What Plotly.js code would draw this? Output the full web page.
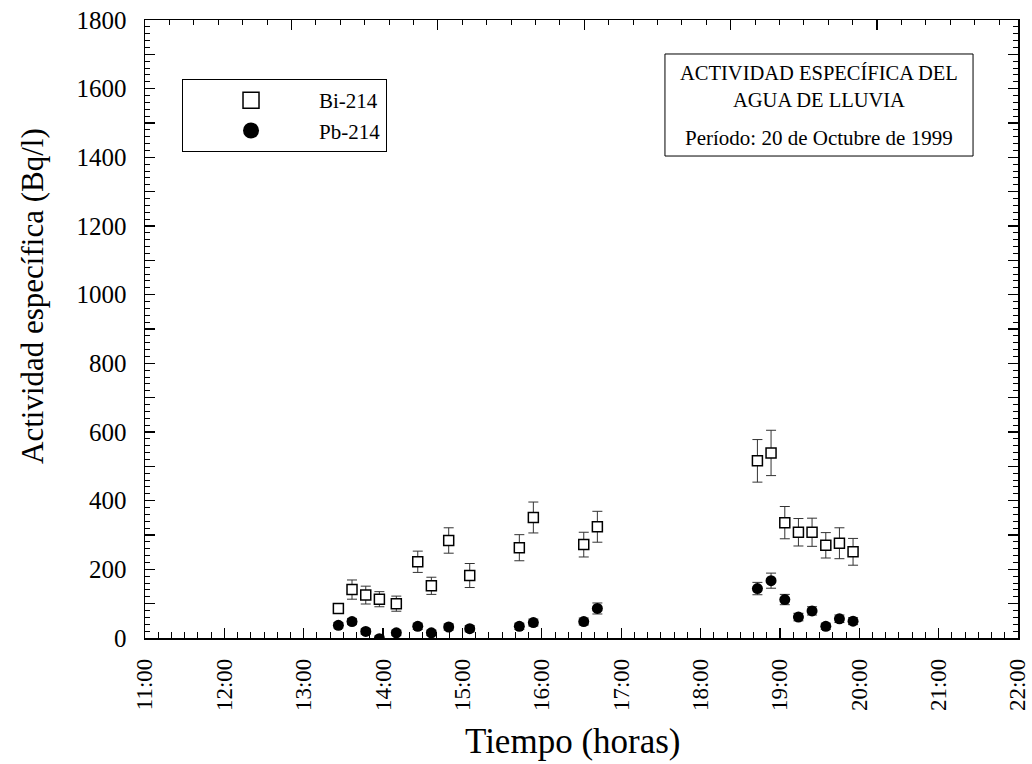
<!DOCTYPE html>
<html>
<head>
<meta charset="utf-8">
<script src="https://cdn.plot.ly/plotly-3.0.1.min.js"></script>
<style>html,body{margin:0;padding:0;background:#fff;}#chart{width:1032px;height:764px;}</style>
</head>
<body>
<div id="chart"></div>
<script>
// ---- data ----
var times = ["1999-10-20 13:26:12","1999-10-20 13:36:30","1999-10-20 13:46:54","1999-10-20 13:57:12",
             "1999-10-20 14:10:00","1999-10-20 14:26:12","1999-10-20 14:36:30","1999-10-20 14:49:36",
             "1999-10-20 15:05:30","1999-10-20 15:43:00","1999-10-20 15:53:36","1999-10-20 16:31:42",
             "1999-10-20 16:42:00","1999-10-20 18:43:00","1999-10-20 18:53:18","1999-10-20 19:03:42",
             "1999-10-20 19:14:00","1999-10-20 19:24:18","1999-10-20 19:34:42","1999-10-20 19:45:00",
             "1999-10-20 19:55:18"];
var bi214 = [86, 141, 125, 113, 100, 222, 152, 284, 182, 263, 351, 272, 324, 516, 539, 336, 308, 308, 270, 276, 251];
var bi214Err = [12, 28, 26, 22, 22, 31, 25, 37, 35, 38, 45, 36, 45, 62, 66, 47, 40, 41, 37, 45, 39];
var pb214 = [37, 48, 19, -2, 15, 34, 15, 32, 27, 34, 45, 48, 86, 144, 167, 112, 61, 79, 34, 56, 49];
var pb214Err = [8, 9, 8, 8, 8, 9, 8, 9, 9, 9, 10, 10, 16, 18, 22, 15, 11, 12, 9, 11, 10];
var seriesNames = ["Bi-214", "Pb-214"];
var xRange = ["1999-10-20 11:00", "1999-10-20 22:00"];
var yTickVals = [0,100,200,300,400,500,600,700,800,900,1000,1100,1200,1300,1400,1500,1600,1700,1800];
var yTickText = ["0","","200","","400","","600","","800","","1000","","1200","","1400","","1600","","1800"];
var boxTitle = "ACTIVIDAD ESPECÍFICA DEL<br>AGUA DE LLUVIA";
var boxPeriod = "Período: 20 de Octubre de 1999";
var xTitle = "Tiempo (horas)";
var yTitle = "Actividad específica (Bq/l)";

var FONT = '"Liberation Serif", "Times New Roman", Times, serif';

var traces = [
  {
    x: times, y: bi214, type: "scatter", mode: "markers", name: seriesNames[0], showlegend: false,
    marker: {symbol: "square", size: 10, color: "#ffffff", line: {color: "#000", width: 1.5}},
    error_y: {type: "data", array: bi214Err, visible: true, color: "#333", thickness: 1, width: 5}
  },
  {
    x: times, y: pb214, type: "scatter", mode: "markers", name: seriesNames[1], showlegend: false,
    marker: {symbol: "circle", size: 11, color: "#000"},
    error_y: {type: "data", array: pb214Err, visible: true, color: "#333", thickness: 1, width: 5}
  },
  // legend entries
  {x: [null], y: [null], type: "scatter", mode: "markers", name: seriesNames[0],
   marker: {symbol: "square", size: 16, color: "#fff", line: {color: "#000", width: 1.5}}},
  {x: [null], y: [null], type: "scatter", mode: "markers", name: seriesNames[1],
   marker: {symbol: "circle", size: 16, color: "#000"}},
  // top mirrored scale axis holder
  {x: [null], y: [null], xaxis: "x2", yaxis: "y", type: "scatter", mode: "markers", showlegend: false, hoverinfo: "skip"}
];

var layout = {
  width: 1032, height: 764,
  paper_bgcolor: "#fff", plot_bgcolor: "#fff",
  margin: {l: 145, r: 14, t: 20, b: 126},
  font: {family: FONT, color: "#000"},
  showlegend: true,
  legend: {
    x: 0.0424, y: 0.9045, xanchor: "left", yanchor: "top",
    bordercolor: "#000", borderwidth: 1, bgcolor: "#fff",
    font: {family: FONT, size: 21, color: "#000"},
    itemwidth: 126
  },
  xaxis: {
    type: "date", range: xRange, dtick: 3600000, tick0: "1999-10-20 11:00", tickformat: "%H:%M",
    tickangle: -90, ticks: "inside", ticklen: 10, tickwidth: 1.2, tickcolor: "#000",
    ticklabelstandoff: 10,
    minor: {dtick: 600000, tick0: "1999-10-20 11:00", ticks: "inside", ticklen: 6, tickwidth: 1, tickcolor: "#000"},
    showline: true, linecolor: "#000", linewidth: 1.5, mirror: true,
    showgrid: false, zeroline: false,
    tickfont: {family: FONT, size: 23, color: "#000"}
  },
  xaxis2: {
    overlaying: "x", side: "top", anchor: "y", range: [0, 5.963], dtick: 1, tick0: 0,
    ticks: "inside", ticklen: 10, tickwidth: 1.2, tickcolor: "#000",
    minor: {dtick: 1/6, tick0: 0, ticks: "inside", ticklen: 5, tickwidth: 1, tickcolor: "#000"},
    showticklabels: false, showline: false, showgrid: false, zeroline: false, fixedrange: true
  },
  yaxis: {
    range: [0, 1800], tickmode: "array", tickvals: yTickVals, ticktext: yTickText,
    ticks: "inside", ticklen: 10, tickwidth: 1.2, tickcolor: "#000",
    ticklabelstandoff: 12,
    minor: {dtick: 20, tick0: 0, ticks: "inside", ticklen: 5, tickwidth: 1, tickcolor: "#000"},
    showline: true, linecolor: "#000", linewidth: 1.5, mirror: "ticks",
    showgrid: false, zeroline: false,
    tickfont: {family: FONT, size: 25, color: "#000"}
  },
  shapes: [
    {type: "rect", xref: "paper", yref: "paper", x0: 0.5956, x1: 0.9485, y0: 0.7799, y1: 0.945,
     line: {color: "#000", width: 1}, fillcolor: "#fff", layer: "above"}
  ],
  annotations: [
    {xref: "paper", yref: "paper", x: 0.772, y: 0.8924, xanchor: "center", yanchor: "middle",
     text: boxTitle, showarrow: false, font: {family: FONT, size: 20.5, color: "#000"}},
    {xref: "paper", yref: "paper", x: 0.772, y: 0.809, xanchor: "center", yanchor: "middle",
     text: boxPeriod, showarrow: false, font: {family: FONT, size: 21, color: "#000"}},
    {xref: "paper", yref: "paper", x: 0.4897, y: -0.1667, xanchor: "center", yanchor: "middle",
     text: xTitle, showarrow: false, font: {family: FONT, size: 35, color: "#000"}},
    {xref: "paper", yref: "paper", x: -0.1283, y: 0.5534, xanchor: "center", yanchor: "middle",
     text: yTitle, textangle: -90, showarrow: false, font: {family: FONT, size: 31, color: "#000"}}
  ]
};

Plotly.newPlot("chart", traces, layout, {displayModeBar: false, staticPlot: true});
</script>
</body>
</html>
